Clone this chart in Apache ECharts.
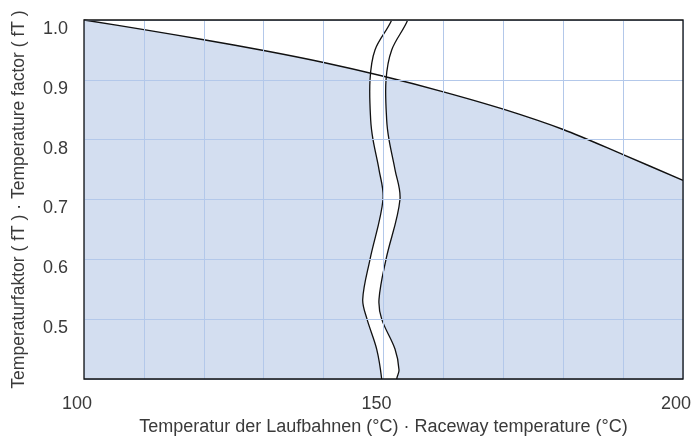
<!DOCTYPE html>
<html>
<head>
<meta charset="utf-8">
<script src="https://cdn.jsdelivr.net/npm/echarts@6/dist/echarts.min.js"></script>
<style>html,body{margin:0;padding:0;background:#fff;}#c{width:697px;height:445px;}</style>
</head>
<body>
<div id="c"></div>
<script>
// Raceway temperature (°C)
const temps = [100, 110, 120, 130, 140, 150, 160, 170, 180, 190, 200];
// Temperature factor fT
const factors = [1.0, 0.984, 0.967, 0.949, 0.929, 0.906, 0.880, 0.851, 0.817, 0.775, 0.732];
// Axis break symbol outline (data coordinates)
const breakLeft = [[152.0, 1.03], [151.37, 1.0], [148.58, 0.95], [147.75, 0.90], [147.86, 0.833], [148.25, 0.80], [149.25, 0.75], [149.92, 0.70], [147.75, 0.60], [146.53, 0.533], [147.25, 0.50], [148.86, 0.45], [149.70, 0.40], [149.8, 0.37]];
const breakRight = [[154.6, 1.03], [154.04, 1.0], [151.37, 0.95], [150.42, 0.90], [150.53, 0.833], [150.92, 0.80], [151.92, 0.75], [152.75, 0.70], [150.42, 0.60], [149.25, 0.533], [149.70, 0.50], [151.92, 0.45], [152.59, 0.415], [152.20, 0.40], [152.0, 0.37]];
const xTickLabels = [100, 150, 200];
const yTickLabels = [0.5, 0.6, 0.7, 0.8, 0.9, 1.0];

const FONT = 'Liberation Sans';
const TXT = '#3a3a3a';
const GRIDC = '#b3c8ea';
const FILL = '#d3def0';

const curve = temps.map((t, i) => [t, factors[i]]);

const chart = echarts.init(document.getElementById('c'), null, {renderer: 'canvas'});
chart.setOption({
  animation: false,
  backgroundColor: '#fff',
  grid: {left: 84, right: 14, top: 20, bottom: 66, show: true, borderColor: '#111', borderWidth: 1.3, backgroundColor: 'transparent', z: 20},
  xAxis: {
    type: 'value', min: 100, max: 200, interval: 10, z: 10,
    axisLine: {show: false}, axisTick: {show: false},
    splitLine: {show: true, lineStyle: {color: GRIDC, width: 1}},
    axisLabel: {
      fontFamily: FONT, fontSize: 18, color: TXT, margin: 16, padding: [0, 14, 0, 0],
      formatter: v => xTickLabels.includes(v) ? String(v) : ''
    },
    name: 'Temperatur der Laufbahnen (°C) · Raceway temperature (°C)',
    nameLocation: 'middle', nameGap: 38,
    nameTextStyle: {fontFamily: FONT, fontSize: 18, color: TXT}
  },
  yAxis: {
    type: 'value', min: 0.4, max: 1.0, interval: 0.1, z: 10,
    axisLine: {show: false}, axisTick: {show: false},
    splitLine: {show: true, lineStyle: {color: GRIDC, width: 1}},
    axisLabel: {
      fontFamily: FONT, fontSize: 18, color: TXT, margin: 16, verticalAlign: 'top',
      formatter: v => yTickLabels.some(t => Math.abs(t - v) < 1e-6) ? v.toFixed(1) : ''
    },
    name: 'Temperaturfaktor ( fT ) · Temperature factor ( fT )',
    nameLocation: 'middle', nameGap: 56,
    nameTextStyle: {fontFamily: FONT, fontSize: 17.5, color: TXT}
  },
  series: [
    {
      type: 'line', data: curve, smooth: 0.3, symbol: 'none', z: 1,
      lineStyle: {width: 0, opacity: 0},
      areaStyle: {color: FILL, opacity: 1}
    },
    {
      type: 'custom', z: 2, clip: true, data: [[0]],
      renderItem: (params, api) => {
        const L = breakLeft.map(p => api.coord(p));
        const R = breakRight.map(p => api.coord(p));
        const poly = L.concat(R.slice().reverse());
        return {
          type: 'group',
          children: [
            {type: 'polygon', shape: {points: poly, smooth: 0.35}, style: {fill: '#fff', stroke: null}},
            {type: 'polyline', shape: {points: L, smooth: 0.35}, style: {stroke: '#111', lineWidth: 1.3, fill: null}},
            {type: 'polyline', shape: {points: R, smooth: 0.35}, style: {stroke: '#111', lineWidth: 1.3, fill: null}}
          ]
        };
      }
    },
    {
      type: 'line', data: curve, smooth: 0.3, symbol: 'none', z: 3,
      lineStyle: {width: 1.4, color: '#111'}
    }
  ]
});
</script>
</body>
</html>
